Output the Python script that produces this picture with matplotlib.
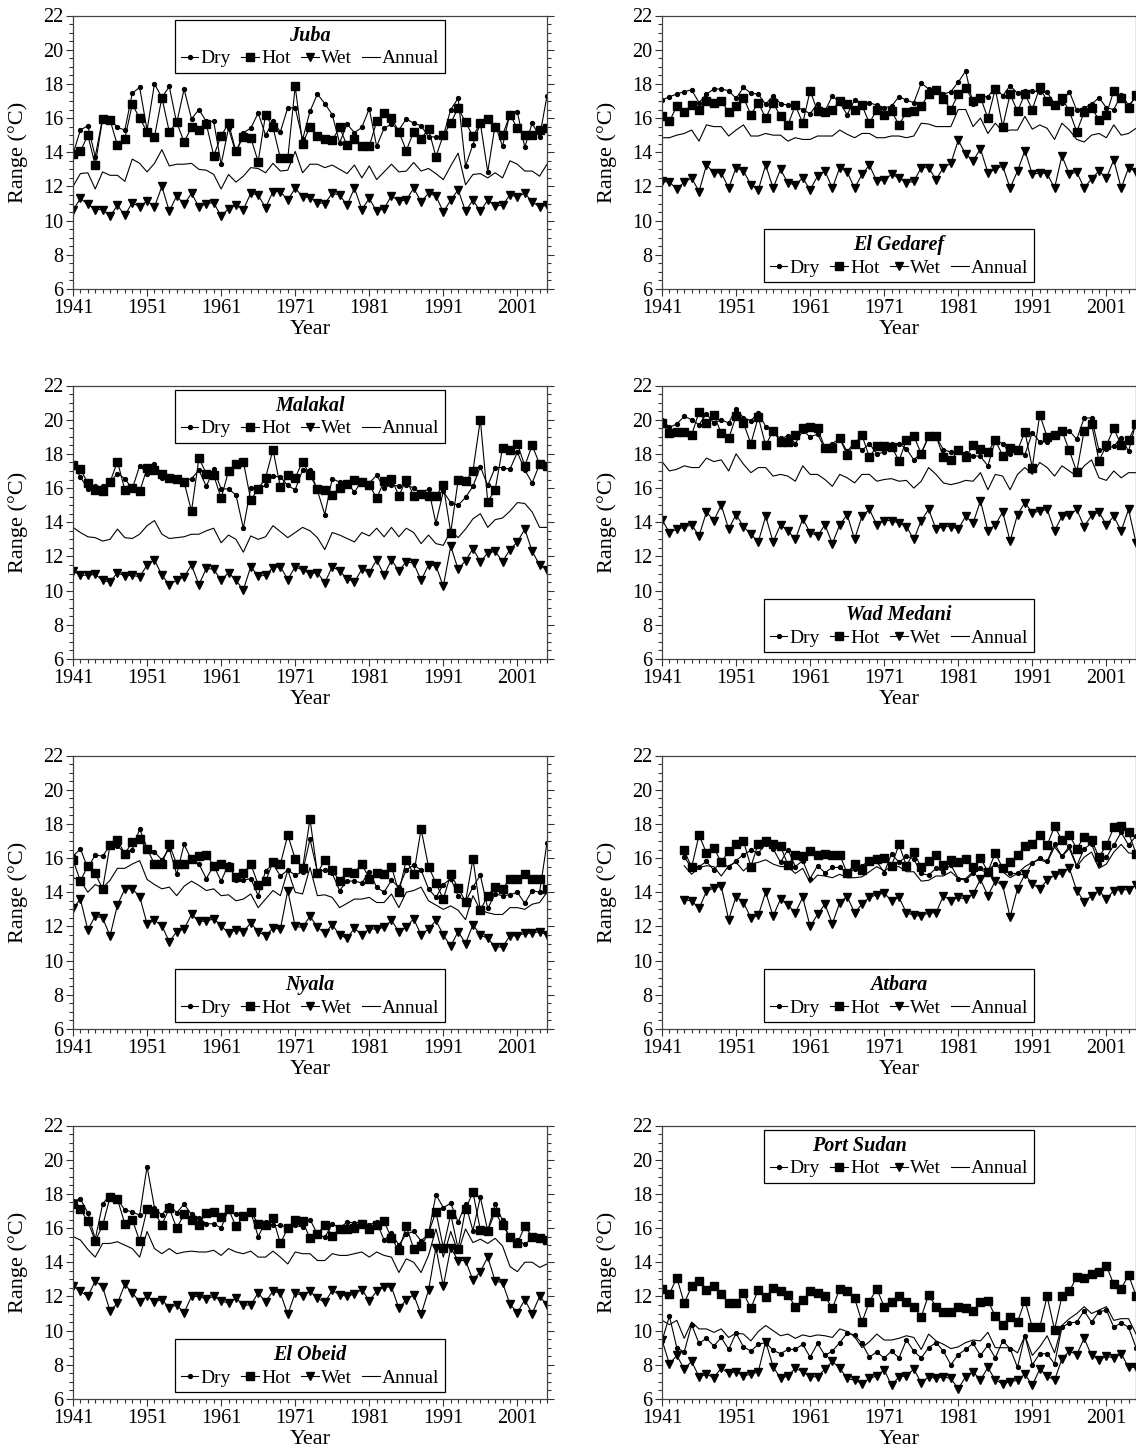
import matplotlib
matplotlib.use("Agg")
import matplotlib.pyplot as plt
import numpy as np

plt.rcParams['font.family'] = ['Liberation Serif', 'DejaVu Serif']

years = np.arange(1941, 2006)
years_atbara = np.arange(1944, 2006)

juba_dry = [13.9, 15.3, 15.55, 13.75, 16.0, 15.95, 15.45, 15.3, 17.45, 17.8,
            15.3, 18.0, 17.2, 17.85, 15.7, 17.7, 15.95, 16.5, 15.8, 15.8,
            13.3, 15.4, 13.95, 15.15, 15.4, 16.3, 15.0, 15.8, 15.2, 16.6,
            16.6, 14.75, 16.4, 17.4, 16.85, 16.2, 14.55, 15.65, 15.15, 15.45,
            16.55, 14.35, 15.4, 15.65, 15.3, 15.95, 15.7, 15.55, 14.9, 14.9,
            14.95, 16.5, 17.15, 13.2, 14.45, 15.7, 12.85, 15.6, 14.35, 16.3,
            16.35, 14.3, 15.7, 14.9, 17.3]
juba_hot = [13.9, 14.05, 15.0, 13.25, 15.95, 15.9, 14.4, 14.8, 16.8, 16.0,
            15.2, 14.9, 17.2, 15.2, 15.75, 14.6, 15.45, 15.3, 15.65, 13.8,
            14.95, 15.7, 14.05, 14.9, 14.85, 13.45, 16.2, 15.45, 13.65, 13.65,
            17.85, 14.5, 15.5, 14.95, 14.75, 14.7, 15.45, 14.4, 14.8, 14.35,
            14.35, 15.8, 16.3, 16.0, 15.2, 14.1, 15.2, 14.8, 15.35, 13.75,
            15.0, 15.7, 16.6, 15.75, 14.95, 15.7, 15.95, 15.45, 15.0, 16.2,
            15.4, 15.0, 15.0, 15.3, 15.4]
juba_wet = [10.6, 11.3, 10.95, 10.65, 10.65, 10.25, 10.9, 10.3, 11.05, 10.8,
            11.15, 10.8, 12.0, 10.55, 11.45, 10.95, 11.6, 10.8, 11.0, 11.05,
            10.25, 10.7, 10.9, 10.65, 11.6, 11.5, 10.75, 11.7, 11.7, 11.2,
            11.9, 11.4, 11.35, 11.05, 11.0, 11.6, 11.5, 10.9, 11.9, 10.65,
            11.3, 10.55, 10.7, 11.45, 11.15, 11.2, 11.9, 11.1, 11.6, 11.45,
            10.5, 11.2, 11.8, 10.55, 11.2, 10.55, 11.2, 10.85, 10.9, 11.5,
            11.4, 11.6, 11.1, 10.8, 10.9]
juba_annual = [12.0, 12.75, 12.8, 11.85, 12.85, 12.65, 12.65, 12.3, 13.6, 13.35,
               12.85, 13.35, 14.15, 13.2, 13.3, 13.3, 13.35, 13.0, 12.95, 12.7,
               11.85, 12.7, 12.25, 12.6, 13.1, 13.05, 12.8, 13.35, 12.9, 12.95,
               14.05, 12.8, 13.3, 13.3, 13.1, 13.25, 13.0, 12.75, 13.25, 12.5,
               13.2, 12.4, 12.85, 13.3, 12.85, 12.9, 13.4, 12.9, 13.05, 12.75,
               12.4, 13.2, 13.95, 12.1, 12.7, 12.75, 12.5, 12.8, 12.5, 13.5,
               13.3, 12.9, 12.9, 12.6, 13.3]

gedaref_dry = [17.05, 17.25, 17.4, 17.55, 17.65, 16.9, 17.4, 17.7, 17.7, 17.6,
               17.15, 17.8, 17.45, 17.4, 16.8, 17.3, 16.85, 16.75, 16.65, 16.5,
               16.25, 16.85, 16.4, 17.3, 16.9, 16.2, 17.05, 16.8, 16.9, 16.75,
               16.6, 16.7, 17.25, 17.05, 16.9, 18.05, 17.7, 17.75, 17.4, 17.55,
               18.1, 18.75, 16.8, 17.25, 17.25, 17.8, 17.3, 17.9, 17.45, 17.6,
               17.6, 17.5, 17.5, 16.85, 16.9, 17.55, 16.45, 16.6, 16.8, 17.2,
               16.6, 16.5, 17.35, 16.75, 17.2]
gedaref_hot = [16.1, 15.8, 16.7, 16.35, 16.75, 16.5, 17.0, 16.9, 17.0, 16.35,
               16.7, 17.2, 16.2, 16.9, 16.0, 16.9, 16.1, 15.6, 16.75, 15.7,
               17.6, 16.4, 16.35, 16.5, 17.0, 16.8, 16.5, 16.75, 15.7, 16.5,
               16.2, 16.4, 15.6, 16.35, 16.4, 16.7, 17.4, 17.65, 17.1, 16.5,
               17.4, 17.75, 17.0, 17.2, 16.0, 17.7, 15.5, 17.4, 16.4, 17.4,
               16.5, 17.8, 17.0, 16.75, 17.2, 16.4, 15.2, 16.35, 16.6, 15.9,
               16.2, 17.6, 17.2, 16.6, 17.35]
gedaref_wet = [12.3, 12.25, 11.85, 12.25, 12.5, 11.7, 13.25, 12.8, 12.8, 11.9,
               13.1, 12.9, 12.1, 11.8, 13.25, 11.9, 13.0, 12.2, 12.1, 12.5,
               11.8, 12.6, 12.9, 11.9, 13.1, 12.85, 11.9, 12.7, 13.25, 12.3,
               12.4, 12.7, 12.5, 12.2, 12.3, 13.1, 13.1, 12.4, 13.1, 13.35,
               14.7, 13.9, 13.5, 14.2, 12.8, 13.0, 13.2, 11.9, 12.9, 14.1,
               12.7, 12.8, 12.75, 11.9, 13.8, 12.7, 12.85, 11.9, 12.45, 12.9,
               12.5, 13.55, 11.9, 13.1, 12.85]
gedaref_annual = [14.85, 14.85, 15.0, 15.1, 15.3, 14.65, 15.6, 15.5, 15.5, 14.95,
                  15.3, 15.6, 14.95, 14.95, 15.1, 15.0, 15.0, 14.65, 14.85, 14.75,
                  14.75, 14.95, 14.95, 14.95, 15.3, 15.05, 14.85, 15.1, 15.1, 14.85,
                  14.85, 14.95, 14.95, 14.85, 14.95, 15.7, 15.65, 15.5, 15.5, 15.5,
                  16.5, 16.5, 15.5, 16.0, 15.1, 15.7, 15.2, 15.3, 15.3, 16.1,
                  15.35, 15.6, 15.4, 14.75, 15.7, 15.3, 14.75, 14.6, 15.0, 15.1,
                  14.85, 15.6, 15.0, 15.1, 15.4]

malakal_dry = [17.4, 16.65, 15.95, 16.1, 16.1, 16.35, 16.85, 16.55, 15.95, 17.3,
               16.85, 17.4, 16.6, 16.7, 16.6, 16.4, 16.55, 17.05, 16.1, 17.1,
               15.95, 15.95, 15.6, 13.65, 16.0, 15.95, 16.15, 16.7, 16.65, 16.15,
               15.9, 17.05, 17.05, 15.85, 14.45, 16.55, 16.35, 16.35, 15.75, 16.45,
               16.3, 16.75, 16.0, 16.2, 16.1, 16.2, 16.0, 15.7, 15.95, 13.95,
               15.8, 15.15, 15.0, 15.45, 16.1, 17.25, 16.15, 17.2, 17.2, 17.1,
               18.1, 17.05, 16.3, 17.4, 17.3]
malakal_hot = [17.35, 17.1, 16.3, 15.9, 15.85, 16.35, 17.55, 15.9, 16.0, 15.8,
               17.15, 17.05, 16.85, 16.6, 16.55, 16.35, 14.65, 17.75, 16.85, 16.75,
               15.4, 17.0, 17.4, 17.55, 15.3, 15.95, 16.6, 18.25, 16.05, 16.75,
               16.6, 17.55, 16.75, 15.95, 15.9, 15.6, 16.0, 16.25, 16.45, 16.35,
               16.2, 15.4, 16.4, 16.55, 15.55, 16.5, 15.55, 15.65, 15.55, 15.55,
               16.15, 13.4, 16.45, 16.4, 17.0, 20.0, 15.2, 15.9, 18.35, 18.2,
               18.6, 17.3, 18.5, 17.4, 17.3]
malakal_wet = [11.15, 10.9, 10.9, 10.95, 10.6, 10.5, 11.05, 10.85, 10.9, 10.8,
               11.5, 11.8, 10.9, 10.35, 10.6, 10.8, 11.5, 10.35, 11.3, 11.25,
               10.6, 11.05, 10.6, 10.05, 11.4, 10.85, 10.9, 11.35, 11.4, 10.65,
               11.4, 11.2, 11.0, 11.05, 10.45, 11.4, 11.15, 10.7, 10.5, 11.25,
               11.05, 11.8, 10.9, 11.8, 11.15, 11.7, 11.6, 10.6, 11.5, 11.45,
               10.25, 12.6, 11.25, 11.75, 12.45, 11.7, 12.2, 12.3, 11.7, 12.4,
               12.85, 13.6, 12.3, 11.5, 11.2]
malakal_annual = [13.7, 13.4, 13.15, 13.1, 12.9, 13.0, 13.6, 13.1, 13.05, 13.3,
                  13.8, 14.1, 13.3, 13.05, 13.1, 13.15, 13.3, 13.3, 13.5, 13.65,
                  12.8, 13.25, 13.0, 12.25, 13.2, 13.0, 13.15, 13.8, 13.45, 13.1,
                  13.4, 13.7, 13.5, 13.1, 12.4, 13.4, 13.25, 13.05, 12.85, 13.4,
                  13.2, 13.65, 13.15, 13.7, 13.15, 13.65, 13.4, 12.75, 13.25, 12.75,
                  12.65, 13.5, 13.1, 13.6, 14.2, 14.5, 13.7, 14.15, 14.25, 14.65,
                  15.15, 15.1, 14.6, 13.7, 13.7]

medani_dry = [20.0, 19.55, 19.75, 20.2, 20.0, 19.7, 20.35, 19.8, 20.0, 19.8,
              20.65, 20.1, 19.95, 20.4, 19.6, 19.25, 18.9, 19.05, 18.6, 19.35,
              19.0, 19.15, 18.3, 18.6, 18.9, 18.15, 18.65, 18.2, 18.6, 18.0,
              18.1, 18.55, 18.6, 18.3, 17.65, 18.05, 19.0, 19.0, 18.25, 18.1,
              18.15, 18.05, 17.9, 17.85, 17.3, 18.8, 18.6, 18.0, 18.3, 17.95,
              19.25, 18.7, 18.7, 19.15, 19.4, 19.35, 18.85, 20.1, 20.1, 18.2,
              18.3, 18.45, 18.95, 18.15, 19.85]
medani_hot = [19.8, 19.2, 19.3, 19.3, 19.1, 20.45, 19.8, 20.3, 19.2, 18.9,
              20.2, 19.8, 18.6, 20.15, 18.5, 19.35, 18.7, 18.7, 19.1, 19.5,
              19.6, 19.5, 18.35, 18.35, 18.9, 17.95, 18.6, 19.1, 17.8, 18.45,
              18.45, 18.4, 17.6, 18.8, 19.05, 18.0, 19.05, 19.05, 17.8, 17.65,
              18.2, 17.8, 18.5, 18.3, 18.1, 18.8, 17.9, 18.35, 18.2, 19.3,
              17.2, 20.3, 19.0, 19.1, 19.35, 18.2, 16.95, 19.35, 19.75, 17.6,
              18.5, 19.5, 18.5, 18.8, 19.75]
medani_wet = [14.15, 13.4, 13.6, 13.7, 13.85, 13.2, 14.6, 14.1, 15.0, 13.6,
              14.45, 13.75, 13.3, 12.85, 14.35, 12.85, 13.85, 13.5, 13.0, 14.2,
              13.4, 13.2, 13.85, 12.75, 13.85, 14.45, 13.0, 14.35, 14.75, 13.85,
              14.1, 14.1, 13.95, 13.75, 13.0, 14.1, 14.75, 13.6, 13.75, 13.75,
              13.6, 14.35, 13.95, 15.25, 13.5, 13.85, 14.6, 12.9, 14.45, 15.15,
              14.55, 14.65, 14.75, 13.5, 14.35, 14.4, 14.75, 13.75, 14.4, 14.6,
              13.85, 14.35, 13.5, 14.75, 12.8]
medani_annual = [17.55, 17.0, 17.1, 17.3, 17.2, 17.2, 17.75, 17.55, 17.65, 17.0,
                 18.0, 17.4, 16.9, 17.2, 17.2, 16.7, 16.8, 16.7, 16.4, 17.3,
                 16.8, 16.8, 16.5, 16.1, 16.8, 16.6, 16.3, 16.8, 16.8, 16.4,
                 16.5, 16.55, 16.4, 16.45, 16.0, 16.4, 17.2, 16.8, 16.3, 16.2,
                 16.3, 16.45, 16.4, 16.9, 15.9, 16.8, 16.7, 15.9, 16.8, 17.2,
                 16.8, 17.5, 17.2, 16.7, 17.3, 17.0, 16.7, 17.3, 17.65, 16.6,
                 16.45, 17.0, 16.6, 16.9, 16.9]

nyala_dry = [16.1, 16.55, 15.4, 16.2, 16.1, 16.75, 16.7, 16.3, 16.5, 17.7,
             16.6, 16.35, 15.9, 16.55, 15.05, 16.8, 15.9, 15.65, 14.8, 15.55,
             14.65, 15.65, 14.7, 14.7, 14.8, 13.8, 15.25, 15.65, 14.95, 15.3,
             15.0, 15.2, 17.1, 15.2, 15.3, 15.1, 14.1, 14.65, 14.65, 14.55,
             15.2, 14.3, 14.0, 14.7, 14.3, 15.3, 15.6, 15.3, 14.2, 13.7,
             14.45, 14.8, 13.8, 13.45, 14.3, 15.0, 13.05, 13.9, 13.8, 13.85,
             14.0, 13.35, 14.1, 14.0, 16.9]
nyala_hot = [15.9, 14.65, 15.55, 15.1, 14.2, 16.75, 17.05, 16.25, 16.95, 17.1,
             16.55, 15.65, 15.65, 16.8, 15.65, 15.65, 15.95, 16.1, 16.2, 15.55,
             15.65, 15.5, 14.9, 15.1, 15.65, 14.45, 14.65, 15.75, 15.65, 17.35,
             15.95, 15.4, 18.3, 15.1, 15.9, 15.3, 14.65, 15.2, 15.15, 15.65,
             14.8, 15.1, 15.05, 15.5, 14.0, 15.9, 15.05, 17.7, 15.5, 14.55,
             13.6, 15.05, 14.25, 13.45, 15.95, 12.95, 13.8, 14.3, 14.2, 14.8,
             14.8, 15.05, 14.8, 14.8, 14.2]
nyala_wet = [13.05, 13.6, 11.8, 12.6, 12.5, 11.45, 13.25, 14.2, 14.2, 13.75,
             12.15, 12.35, 12.05, 11.1, 11.7, 11.85, 12.7, 12.3, 12.3, 12.45,
             12.05, 11.6, 11.8, 11.7, 12.2, 11.7, 11.45, 11.9, 11.85, 14.1,
             12.0, 11.95, 12.6, 11.95, 11.6, 12.1, 11.5, 11.3, 11.9, 11.5,
             11.85, 11.85, 11.95, 12.35, 11.7, 11.95, 12.45, 11.5, 11.85, 12.35,
             11.5, 10.85, 11.7, 11.0, 12.1, 11.5, 11.3, 10.8, 10.8, 11.45,
             11.45, 11.6, 11.6, 11.7, 11.5]
nyala_annual = [14.85, 14.7, 14.0, 14.45, 14.25, 14.7, 15.4, 15.4, 15.65, 15.85,
                14.75, 14.45, 14.2, 14.3, 13.8, 14.35, 14.65, 14.4, 14.1, 14.2,
                13.8, 13.85, 13.5, 13.6, 13.9, 13.1, 13.6, 14.1, 13.8, 15.3,
                14.0, 13.9, 15.45, 13.8, 13.85, 13.7, 13.1, 13.35, 13.6, 13.6,
                13.7, 13.4, 13.4, 13.9, 13.1, 14.0, 14.1, 14.3, 13.5, 13.25,
                13.0, 13.2, 12.95, 12.4, 13.8, 12.95, 12.8, 12.7, 12.7, 13.1,
                13.1, 13.0, 13.3, 13.4, 14.0]

atbara_dry = [16.05, 15.45, 15.5, 15.8, 15.3, 15.8, 15.45,
              15.85, 16.2, 16.45, 16.3, 16.8, 16.55, 15.75, 16.5, 15.5, 15.85,
              14.8, 15.55, 15.15, 15.45, 15.45, 15.1, 15.35, 15.55, 15.85, 15.8,
              15.15, 16.25, 15.75, 16.1, 15.95, 15.1, 15.0, 15.4, 15.2, 15.6,
              14.8, 14.7, 15.1, 15.4, 15.3, 15.65, 15.45, 15.1, 15.1, 15.0,
              15.7, 16.0, 15.8, 16.85, 16.1, 16.7, 15.55, 16.55, 16.85, 15.65,
              16.05, 16.75, 17.5, 16.75, 17.3]
atbara_hot = [16.45, 15.45, 17.35, 16.3, 16.6, 15.75, 16.4,
              16.85, 17.0, 15.5, 16.85, 17.0, 16.85, 16.7, 15.6, 16.2, 16.1,
              16.4, 16.15, 16.25, 16.15, 16.2, 15.1, 15.65, 15.3, 15.85, 15.95,
              16.0, 15.55, 16.8, 15.55, 16.35, 15.45, 15.85, 16.2, 15.6, 15.9,
              15.75, 15.95, 15.45, 16.0, 15.2, 16.3, 15.4, 15.75, 16.15, 16.7,
              16.8, 17.35, 16.75, 17.85, 17.05, 17.35, 16.55, 17.25, 17.05, 16.05,
              16.75, 17.8, 17.9, 17.5, 16.25]
atbara_wet = [13.55, 13.5, 13.05, 14.05, 14.25, 14.35, 12.4,
              13.75, 13.4, 12.5, 12.65, 14.0, 12.6, 13.6, 13.25, 12.8, 13.7,
              12.0, 12.7, 13.3, 12.15, 13.4, 13.75, 12.8, 13.3, 13.7, 13.85,
              13.95, 13.5, 13.7, 12.8, 12.65, 12.6, 12.8, 12.8, 13.8, 13.5,
              13.7, 13.6, 13.9, 14.75, 13.8, 14.65, 14.4, 12.55, 14.2, 15.05,
              14.5, 14.2, 14.7, 15.0, 15.1, 15.4, 14.1, 13.45, 13.8, 14.1,
              13.6, 14.1, 14.15, 14.15, 14.4]
atbara_annual = [15.55, 15.05, 15.45, 15.55, 15.5, 14.95, 15.55,
                 15.75, 15.25, 15.65, 15.75, 15.9, 15.65, 15.5, 15.5, 15.1, 15.4,
                 14.55, 15.0, 14.95, 14.85, 15.05, 14.85, 14.85, 14.9, 15.2, 15.5,
                 15.25, 15.5, 15.5, 15.2, 15.2, 14.65, 14.7, 14.95, 14.95, 15.2,
                 14.8, 14.8, 15.2, 15.3, 15.15, 15.65, 15.2, 14.85, 15.1, 15.5,
                 15.75, 15.9, 15.75, 16.65, 16.1, 16.55, 15.5, 16.05, 16.35, 15.4,
                 15.65, 16.35, 16.8, 16.3, 16.25]

obeid_dry = [17.6, 17.7, 16.9, 15.35, 17.4, 17.95, 17.7, 17.05, 16.95, 16.75,
             19.6, 17.2, 16.75, 17.35, 16.9, 17.4, 16.8, 16.6, 16.25, 16.25,
             16.0, 17.1, 16.8, 16.7, 16.95, 15.5, 16.35, 16.15, 16.15, 16.05,
             16.15, 16.05, 16.5, 15.65, 15.45, 16.25, 16.0, 16.35, 16.3, 16.35,
             16.2, 16.35, 15.3, 15.7, 15.0, 15.65, 15.8, 15.25, 15.65, 17.95,
             17.2, 17.45, 16.35, 17.4, 15.85, 17.8, 15.85, 17.4, 16.45, 15.35,
             15.3, 15.05, 15.4, 15.3, 15.2]
obeid_hot = [17.4, 17.1, 16.4, 15.25, 16.15, 17.8, 17.7, 16.25, 16.5, 15.25,
             17.1, 16.9, 16.2, 17.15, 16.0, 16.8, 16.5, 16.2, 16.9, 16.95,
             16.65, 17.1, 16.1, 16.7, 16.95, 16.25, 16.15, 16.6, 15.1, 16.0,
             16.5, 16.4, 15.4, 15.65, 16.2, 15.55, 15.95, 15.95, 16.0, 16.25,
             15.95, 16.2, 16.4, 15.4, 14.7, 16.1, 14.8, 14.95, 15.7, 16.95,
             14.85, 16.8, 14.8, 17.1, 18.1, 15.9, 15.85, 16.95, 16.15, 15.5,
             15.1, 16.1, 15.5, 15.4, 15.3]
obeid_wet = [12.6, 12.3, 12.0, 12.9, 12.55, 11.15, 11.6, 12.7, 12.2, 11.7,
             12.0, 11.7, 11.8, 11.35, 11.5, 11.05, 12.0, 12.0, 11.85, 12.0,
             11.75, 11.6, 11.9, 11.5, 11.5, 12.2, 11.7, 12.3, 12.2, 10.95,
             12.2, 12.05, 12.3, 11.9, 11.65, 12.35, 12.1, 12.0, 12.15, 12.4,
             11.75, 12.3, 12.55, 12.55, 11.3, 11.8, 12.1, 10.95, 12.35, 14.85,
             12.6, 14.85, 14.1, 14.1, 12.95, 13.45, 14.3, 12.9, 12.8, 11.55,
             11.05, 11.8, 11.0, 12.0, 11.5]
obeid_annual = [15.5, 15.3, 14.75, 14.3, 15.1, 15.1, 15.2, 15.0, 14.8, 14.3,
                15.8, 14.8, 14.5, 14.8, 14.5, 14.6, 14.65, 14.6, 14.6, 14.7,
                14.4, 14.8, 14.6, 14.5, 14.65, 14.3, 14.3, 14.65, 14.3, 13.9,
                14.6, 14.5, 14.5, 14.1, 14.1, 14.5, 14.4, 14.4, 14.5, 14.6,
                14.3, 14.6, 14.4, 14.3, 13.4, 14.2, 14.0, 13.4, 14.4, 15.95,
                14.3, 15.8, 14.6, 15.95, 15.15, 15.35, 15.1, 15.4, 14.95, 13.75,
                13.45, 14.0, 14.0, 13.7, 13.9]

port_dry = [9.4, 10.85, 9.0, 8.75, 10.35, 9.25, 9.55, 9.1, 9.6, 8.9,
            9.85, 9.05, 8.8, 9.2, 9.3, 8.85, 8.65, 8.9, 8.9, 9.2,
            8.45, 9.25, 8.55, 8.8, 9.3, 9.85, 9.75, 9.25, 8.45, 8.75,
            8.4, 8.8, 8.4, 9.45, 8.8, 8.4, 9.0, 9.3, 8.8, 8.0,
            8.6, 8.9, 9.25, 8.55, 9.15, 8.4, 9.4, 8.95, 7.85, 9.7,
            8.0, 8.65, 8.65, 8.05, 10.2, 10.45, 10.5, 11.15, 10.5, 11.1,
            11.2, 10.2, 10.45, 10.2, 9.0]
port_hot = [12.45, 12.15, 13.1, 11.6, 12.6, 12.9, 12.4, 12.6, 12.15, 11.6,
            11.6, 12.2, 11.3, 12.4, 11.95, 12.5, 12.3, 12.1, 11.4, 11.8,
            12.3, 12.2, 12.0, 11.3, 12.45, 12.3, 11.9, 10.5, 11.7, 12.45,
            11.4, 11.7, 12.0, 11.7, 11.4, 10.8, 12.1, 11.4, 11.1, 11.1,
            11.4, 11.3, 11.15, 11.7, 11.75, 10.85, 10.35, 10.8, 10.5, 11.75,
            10.2, 10.2, 12.0, 10.05, 12.0, 12.3, 13.15, 13.1, 13.3, 13.45,
            13.8, 12.7, 12.45, 13.25, 12.05]
port_wet = [9.45, 8.05, 8.55, 7.75, 8.2, 7.3, 7.45, 7.25, 7.8, 7.5,
            7.6, 7.35, 7.45, 7.6, 9.35, 7.9, 7.2, 7.35, 7.8, 7.6,
            7.3, 7.3, 7.75, 8.2, 7.8, 7.2, 7.1, 6.9, 7.2, 7.35,
            7.7, 6.8, 7.3, 7.35, 7.75, 6.95, 7.3, 7.2, 7.3, 7.2,
            6.6, 7.3, 7.6, 7.1, 7.85, 7.1, 6.9, 7.0, 7.1, 7.45,
            6.8, 7.75, 7.35, 7.1, 8.35, 8.8, 8.6, 9.55, 8.55, 8.3,
            8.5, 8.4, 8.65, 7.85, 7.85]
port_annual = [10.6, 10.35, 10.6, 9.55, 10.5, 10.1, 10.1, 9.9, 10.1, 9.6,
               9.85, 9.8, 9.4, 9.95, 10.3, 10.0, 9.7, 9.8, 9.55, 9.75,
               9.65, 9.75, 9.7, 9.6, 10.1, 9.95, 9.65, 9.0, 9.35, 9.8,
               9.45, 9.45, 9.55, 9.7, 9.6, 8.9, 9.8, 9.4, 9.2, 8.95,
               9.05, 9.3, 9.45, 9.4, 9.9, 9.0, 9.0, 9.0, 8.7, 9.7,
               8.55, 9.05, 9.7, 8.7, 10.3, 10.7, 11.0, 11.4, 11.0, 11.2,
               11.4, 10.6, 10.7, 10.7, 9.8]


def panel(ax, name, yrs, dry, hot, wet, annual, legend_top, title_shift=0):
    lw = 0.8
    ax.plot(yrs, dry, color='black', lw=lw, marker='o', ms=2.8, label='Dry')
    ax.plot(yrs, hot, color='black', lw=lw, marker='s', ms=5.2, label='Hot')
    ax.plot(yrs, wet, color='black', lw=lw, marker='v', ms=6.2, label='Wet')
    ax.plot(yrs, annual, color='black', lw=lw, label='Annual')

    ax.set_xlim(1941, 2005)
    ax.set_ylim(6, 22)
    ax.set_xticks(np.arange(1941, 2005, 10))
    ax.set_xticks(np.arange(1941, 2006, 1), minor=True)
    ax.set_yticks(np.arange(6, 23, 2))
    ax.set_yticks(np.arange(6, 22.1, 0.5), minor=True)
    ax.tick_params(which='both', direction='out', top=False, right=True,
                   labelsize=14.5, pad=2, width=0.8, color='#333333')
    ax.tick_params(which='major', length=5)
    ax.tick_params(which='minor', length=3)
    for s in ax.spines.values():
        s.set_linewidth(0.9)
        s.set_color('#444444')

    ax.set_xlabel('Year', fontsize=16)
    ax.set_ylabel('Range (°C)', fontsize=16)
    ax.xaxis.set_label_coords(0.5, -0.112)
    ax.yaxis.set_label_coords(-0.094, 0.5)

    if legend_top:
        loc, anchor = 'upper center', (0.5, 0.984)
    else:
        loc, anchor = 'lower center', (0.5, 0.024)
    leg = ax.legend(loc=loc, bbox_to_anchor=anchor, ncol=4,
                    title=name + ' ' * title_shift,
                    fontsize=14, handlelength=0.9, handletextpad=0.1,
                    columnspacing=0.55, borderpad=0.3, labelspacing=0.2,
                    borderaxespad=0, fancybox=False, framealpha=1,
                    edgecolor='black',
                    title_fontproperties={'weight': 'bold', 'style': 'italic',
                                          'size': 14.5})
    leg.get_frame().set_linewidth(0.9)
    leg._legend_box.sep = 3


fig = plt.figure(figsize=(11.36, 14.47), dpi=100)

lefts = [73 / 1136, 662 / 1136]
width = 474 / 1136
height = 273.5 / 1447
bottoms = [(1447 - 289) / 1447, (1447 - 659) / 1447,
           (1447 - 1029) / 1447, (1447 - 1399) / 1447]

panels = [
    ('Juba', years, juba_dry, juba_hot, juba_wet, juba_annual, True),
    ('El Gedaref', years, gedaref_dry, gedaref_hot, gedaref_wet, gedaref_annual, False),
    ('Malakal', years, malakal_dry, malakal_hot, malakal_wet, malakal_annual, True),
    ('Wad Medani', years, medani_dry, medani_hot, medani_wet, medani_annual, False),
    ('Nyala', years, nyala_dry, nyala_hot, nyala_wet, nyala_annual, False),
    ('Atbara', years_atbara, atbara_dry, atbara_hot, atbara_wet, atbara_annual, False),
    ('El Obeid', years, obeid_dry, obeid_hot, obeid_wet, obeid_annual, False),
    ('Port Sudan', years, port_dry, port_hot, port_wet, port_annual, True, 16),
]

for i, p in enumerate(panels):
    row, col = divmod(i, 2)
    ax = fig.add_axes([lefts[col], bottoms[row], width, height])
    panel(ax, *p)

fig.savefig('out.png', dpi=100)
